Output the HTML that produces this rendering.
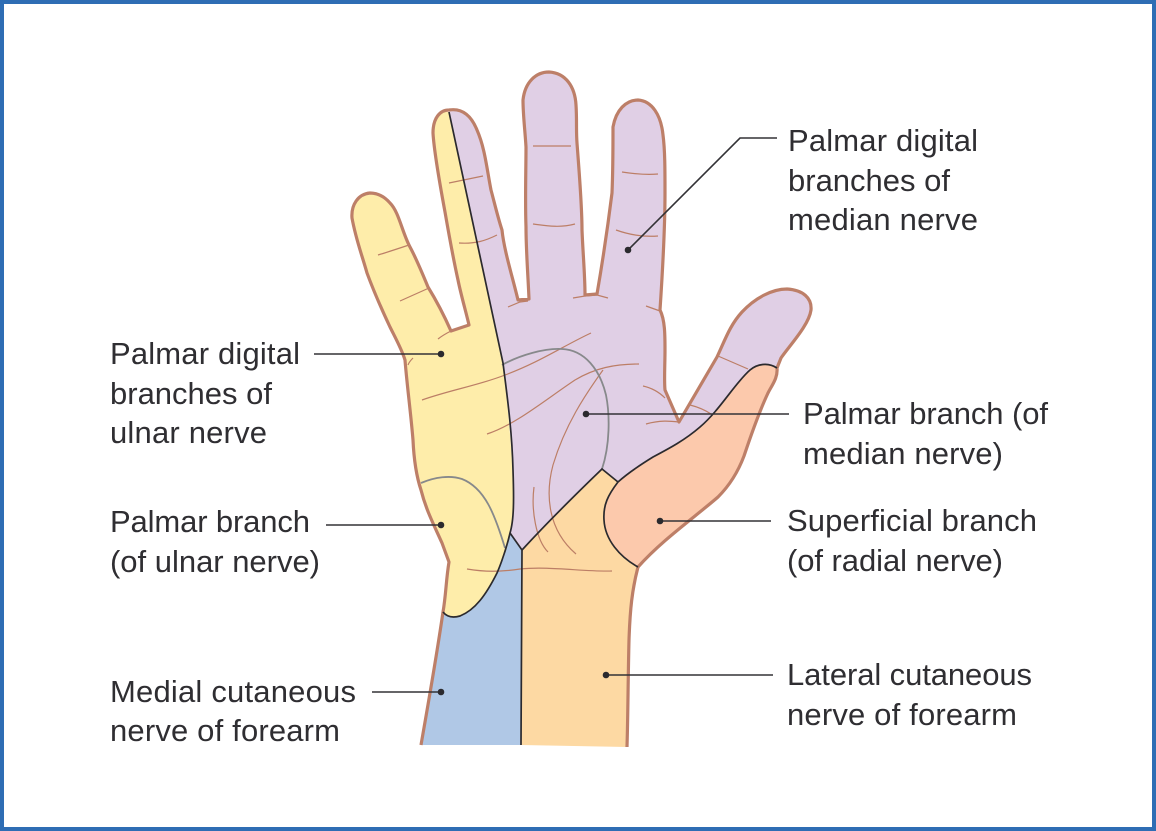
<!DOCTYPE html>
<html><head><meta charset="utf-8"><style>
html,body{margin:0;padding:0;background:#fff}
svg{display:block}
text{font-family:"Liberation Sans",sans-serif;font-size:31px;fill:#2f2e32}
.c{fill:none;stroke:#bc7e66;stroke-width:1.2}
.g{fill:none;stroke:#87898b;stroke-width:1.8}
.b{fill:none;stroke:#2b2a2e;stroke-width:1.7}
.l{fill:none;stroke:#333236;stroke-width:1.6}
</style></head><body>
<svg width="1156" height="831" viewBox="0 0 1156 831" xmlns="http://www.w3.org/2000/svg">
<rect width="1156" height="831" fill="#2e6db4"/>
<rect x="4" y="4" width="1148" height="823" fill="#fff"/>

<!-- yellow -->
<path fill="#feedaa" d="M449 112C440 110 433 118 433 133C434 150 440 185 445 212C449 235 454 262 458 280C461 295 466 312 469 325L451 331C443 313 436 300 428 287C421 270 416 258 410 247C402 232 399 212 390 203C383 195 376 193 370 193C358 194 351 205 352 218C356 240 362 255 367 273C374 292 382 310 390 327C397 341 402 350 405 360C407 385 411 415 413 440C414 462 417 478 421 490C426 510 434 525 442 543L449 562C446 580 446 595 443 612C447 617 453 618 460 616C475 610 486 595 497 573C505 555 511 545 513 510C514 470 510 430 503 363Z"/>
<!-- purple -->
<path fill="#e0cfe5" d="M449 112C462 108 471 115 477 130C485 148 487 170 491 190C495 205 498 218 502 230C504 250 512 275 518 300L529 299C528 275 526 250 526 227C525 200 526 170 526 147C525 130 523 115 523 100C525 82 536 72 549 72C566 73 575 87 576 105C577 120 576 130 577 143C579 170 582 205 582 230C583 255 585 275 585 295L597 294C602 265 608 225 612 193C613 170 613 150 613 127C616 110 626 100 638 100C652 101 661 115 663 135C665 150 665 170 665 193C665 225 663 265 660 310C665 320 665 335 665 350C665 365 664 380 665 390L679 422L717 357C725 340 730 325 742 312C755 298 772 289 787 289C803 290 812 298 811 310C809 325 790 345 781 358L777 368C765 362 757 364 750 370C735 383 720 410 700 427C685 440 670 448 653 457C640 465 628 473 618 482L602 469L522 550L510 533C514 520 514 500 513 470C512 430 507 395 503 363Z"/>
<!-- blue -->
<path fill="#b0c8e6" d="M443 612C447 617 453 618 460 616C475 610 486 595 497 573C503 560 508 548 510 533L522 550L521 745H421C428 705 436 660 443 612Z"/>
<!-- orange -->
<path fill="#fdd9a3" d="M522 550C545 525 575 495 602 469L618 482C608 495 603 505 604 520C605 540 620 557 638 567C632 590 630 610 629 640C628 680 628 715 627 747L521 745Z"/>
<!-- peach -->
<path fill="#fcc9ac" d="M618 482C628 473 640 465 653 457C670 448 685 440 700 427C720 410 735 383 750 370C757 364 768 362 777 368C778 378 772 385 768 393C760 410 752 432 744 456C738 472 730 485 718 497C695 517 662 540 638 567C620 557 605 540 604 520C603 505 608 495 618 482Z"/>

<!-- creases -->
<path class="c" d="M378 255C388 252 397 249 409 245"/>
<path class="c" d="M400 301L429 288"/>
<path class="c" d="M449 183L483 176"/>
<path class="c" d="M459 243C475 244 485 241 497 235"/>
<path class="c" d="M533 146H571"/>
<path class="c" d="M533 224C548 226 560 228 575 224"/>
<path class="c" d="M622 172C635 174 648 175 658 174"/>
<path class="c" d="M616 230C630 235 645 237 658 236"/>
<path class="c" d="M508 307L520 302 528 301"/>
<path class="c" d="M573 298L585 296 597 295 608 298"/>
<path class="c" d="M646 306L660 311"/>
<path class="c" d="M438 339C443 335 447 333 451 331"/>
<path class="c" d="M408 365C409 362 411 360 413 358"/>
<path class="c" d="M422 400C450 390 480 385 505 375C540 362 565 345 591 333"/>
<path class="c" d="M487 434C515 425 545 400 575 380C595 368 615 364 639 364"/>
<path class="c" d="M643 386C652 388 660 393 665 398"/>
<path class="c" d="M603 370C585 395 565 425 553 465C545 495 548 530 576 554"/>
<path class="c" d="M534 487C531 510 536 540 548 552"/>
<path class="c" d="M646 424C660 420 670 421 679 422"/>
<path class="c" d="M690 405C698 407 705 410 711 414"/>
<path class="c" d="M718 356L748 369"/>
<path class="c" d="M467 569C485 572 500 572 520 569C550 566 585 572 612 571"/>

<!-- gray -->
<path class="g" d="M502 365C520 355 545 348 562 349C585 350 600 370 606 395C610 415 610 445 602 469"/>
<path class="g" d="M421 483C435 477 450 475 462 479C485 488 495 515 505 548"/>

<!-- outline -->
<path fill="none" stroke="#bd7f68" stroke-width="3.2" stroke-linejoin="round" d="M421 745C428 705 436 660 443 612C446 595 446 580 449 562L442 543C434 525 426 510 421 490C417 478 414 462 413 440C411 415 407 385 405 360C402 350 397 341 390 327C382 310 374 292 367 273C362 255 356 240 352 218C351 205 358 194 370 193C376 193 383 195 390 203C399 212 402 232 410 247C416 258 421 270 428 287C436 300 443 313 451 331L469 325C466 312 461 295 458 280C454 262 449 235 445 212C440 185 434 150 433 133C433 118 440 110 449 110C462 108 471 115 477 130C485 148 487 170 491 190C495 205 498 218 502 230C504 250 512 275 518 300L529 299C528 275 526 250 526 227C525 200 526 170 526 147C525 130 523 115 523 100C525 82 536 72 549 72C566 73 575 87 576 105C577 120 576 130 577 143C579 170 582 205 582 230C583 255 585 275 585 295L597 294C602 265 608 225 612 193C613 170 613 150 613 127C616 110 626 100 638 100C652 101 661 115 663 135C665 150 665 170 665 193C665 225 663 265 660 310C665 320 665 335 665 350C665 365 664 380 665 390L679 422L717 357C725 340 730 325 742 312C755 298 772 289 787 289C803 290 812 298 811 310C809 325 790 345 781 358L777 368C778 378 772 385 768 393C760 410 752 432 744 456C738 472 730 485 718 497C695 517 662 540 638 567C632 590 630 610 629 640C628 680 628 715 627 747"/>

<!-- black boundaries -->
<path class="b" d="M449 112L503 363C507 395 512 430 513 470C514 500 514 520 510 533C505 555 497 573 497 573C486 595 475 610 460 616C453 618 447 617 443 612"/>
<path class="b" d="M510 533L522 550L521 745"/>
<path class="b" d="M522 550C545 525 575 495 602 469L618 482"/>
<path class="b" d="M777 368C768 362 757 364 750 370C735 383 720 410 700 427C685 440 670 448 653 457C640 465 628 473 618 482C608 495 603 505 604 520C605 540 620 557 638 567"/>

<!-- leaders -->
<path class="l" d="M628 250L740 138H777"/>
<path class="l" d="M440 354H314"/>
<path class="l" d="M586 414H789"/>
<path class="l" d="M441 525H326"/>
<path class="l" d="M660 521H771"/>
<path class="l" d="M441 692H372"/>
<path class="l" d="M606 675H773"/>
<g fill="#2b2a2e">
<circle cx="628" cy="250" r="3.3"/><circle cx="441" cy="354" r="3.3"/><circle cx="586" cy="414" r="3.3"/>
<circle cx="441" cy="525" r="3.3"/><circle cx="660" cy="521" r="3.3"/><circle cx="441" cy="692" r="3.3"/><circle cx="606" cy="675" r="3.3"/>
</g>

<!-- labels -->
<text x="788" y="151" textLength="190">Palmar digital</text>
<text x="788" y="191" textLength="162">branches of</text>
<text x="788" y="230" textLength="190">median nerve</text>
<text x="110" y="364" textLength="190">Palmar digital</text>
<text x="110" y="404" textLength="162">branches of</text>
<text x="110" y="443" textLength="157">ulnar nerve</text>
<text x="110" y="532" textLength="200">Palmar branch</text>
<text x="110" y="572" textLength="210">(of ulnar nerve)</text>
<text x="110" y="702" textLength="246">Medial cutaneous</text>
<text x="110" y="741" textLength="230">nerve of forearm</text>
<text x="803" y="424" textLength="245">Palmar branch (of</text>
<text x="803" y="464" textLength="200">median nerve)</text>
<text x="787" y="531" textLength="250">Superficial branch</text>
<text x="787" y="571" textLength="216">(of radial nerve)</text>
<text x="787" y="685" textLength="245">Lateral cutaneous</text>
<text x="787" y="725" textLength="230">nerve of forearm</text>
</svg>
</body></html>
